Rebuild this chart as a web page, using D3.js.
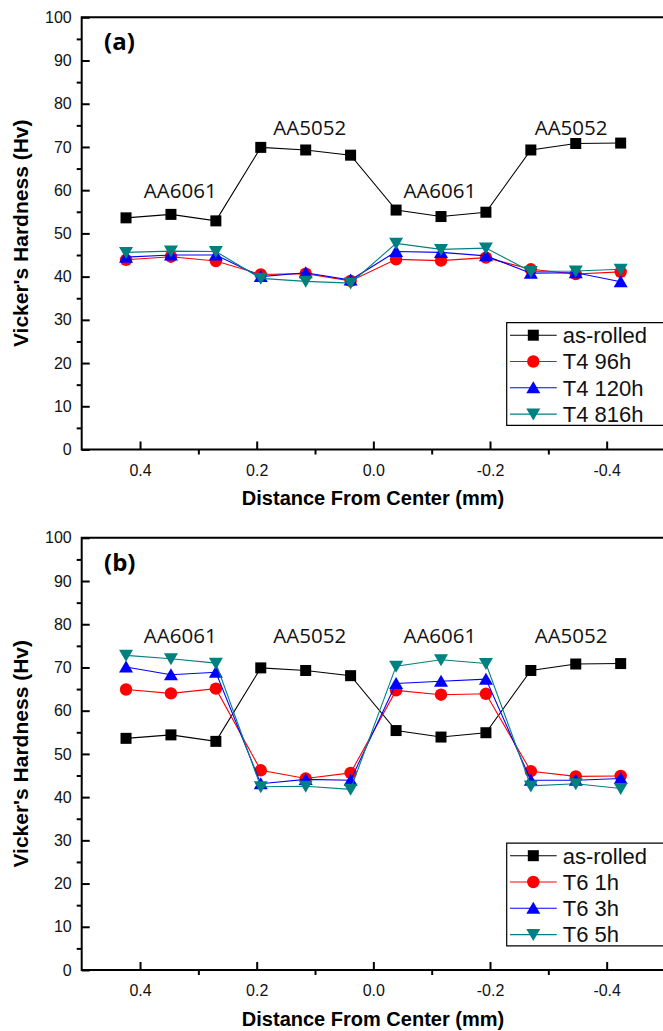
<!DOCTYPE html>
<html><head><meta charset="utf-8">
<script src="https://cdn.jsdelivr.net/npm/d3@7"></script>
<style>html,body{margin:0;padding:0;background:#fff;overflow:hidden;width:663px;height:1031px}svg{display:block;overflow:hidden}</style>
</head><body>
<script>
const xPos = [0.424, 0.347, 0.27, 0.193, 0.116, 0.039, -0.039, -0.116, -0.193, -0.27, -0.347, -0.424];
const asRolled = [53.6, 54.4, 52.9, 69.9, 69.3, 68.1, 55.4, 53.9, 54.9, 69.3, 70.8, 70.9];
const t4_96h  = [43.9, 44.6, 43.6, 40.5, 40.7, 39.0, 44.0, 43.7, 44.4, 41.7, 40.6, 41.1];
const t4_120h = [44.5, 45.0, 45.0, 40.0, 40.9, 39.2, 45.8, 45.6, 44.8, 40.8, 40.9, 38.8];
const t4_816h = [45.6, 45.9, 45.8, 39.6, 38.9, 38.5, 47.7, 46.3, 46.6, 41.2, 41.3, 41.7];
const t6_1h = [64.9, 64.0, 65.1, 46.2, 44.3, 45.6, 64.7, 63.7, 63.9, 46.0, 44.8, 44.9];
const t6_3h = [70.1, 68.3, 68.9, 43.1, 44.1, 43.9, 66.3, 66.8, 67.3, 43.9, 43.9, 44.3];
const t6_5h = [72.8, 72.0, 71.0, 42.4, 42.5, 41.8, 70.3, 71.8, 70.9, 42.6, 43.1, 42.0];
const seriesA = ["as-rolled", "T4 96h", "T4 120h", "T4 816h"];
const seriesB = ["as-rolled", "T6 1h", "T6 3h", "T6 5h"];
const regionLabels = ["AA6061", "AA5052", "AA6061", "AA5052"];
const regionX = [0.331, 0.109, -0.114, -0.339];
const regionYA = [58.2, 72.8, 58.2, 72.8];
const regionYB = [75.6, 75.6, 75.6, 75.6];
const xMajor = [0.4, 0.2, 0.0, -0.2, -0.4];
const xMinor = [0.3, 0.1, -0.1, -0.3];
const yMajor = [0,10,20,30,40,50,60,70,80,90,100];
const yMinor = [5,15,25,35,45,55,65,75,85,95];

const colors = ["#000000", "#ff0000", "#0000ff", "#008080"];

const W = 663, H = 1031;
const svg = d3.select("body").append("svg").attr("width", W).attr("height", H);
svg.append("defs").append("clipPath").attr("id", "pg").append("rect")
  .attr("x", 0).attr("y", 0).attr("width", W).attr("height", H);
const root = svg.append("g").attr("clip-path", "url(#pg)");

function marker(g, k, cx, cy) {
  const c = colors[k];
  if (k === 0) {
    g.append("rect").attr("x", cx-5.5).attr("y", cy-5.5).attr("width", 11).attr("height", 11).attr("fill", c);
  } else if (k === 1) {
    g.append("circle").attr("cx", cx).attr("cy", cy).attr("r", 6.2).attr("fill", c);
  } else if (k === 2) {
    g.append("path").attr("d", `M${cx},${cy-6.5}L${cx+7},${cy+5.5}L${cx-7},${cy+5.5}Z`).attr("fill", c);
  } else {
    g.append("path").attr("d", `M${cx},${cy+6.5}L${cx+7},${cy-5.5}L${cx-7},${cy-5.5}Z`).attr("fill", c);
  }
}

function panel(top, data, names, tag, regY) {
  const x = d3.scaleLinear().domain([0.5, -0.5]).range([81.7, 665]);
  const y = d3.scaleLinear().domain([0, 100]).range([top + 432.2, top]);
  const g = root.append("g");

  g.append("path").attr("d", `M700,${top}H81.7V${top+432.2}H700`)
    .attr("fill", "none").attr("stroke", "#000").attr("stroke-width", 2);

  const yAx = g.append("g").attr("transform", `translate(81.7,0)`)
    .call(d3.axisLeft(y).tickValues(yMajor).tickSize(-8).tickPadding(10).tickFormat(d3.format("d")));
  yAx.select(".domain").remove();
  yAx.selectAll("line").attr("stroke-width", 2);
  yAx.selectAll("text").attr("font-family", "Liberation Sans, Arial, sans-serif").attr("font-size", 16).attr("fill", "#111");
  const yMin = g.append("g").attr("transform", `translate(81.7,0)`)
    .call(d3.axisLeft(y).tickValues(yMinor).tickSize(5).tickFormat(""));
  yMin.select(".domain").remove();
  yMin.selectAll("line").attr("stroke-width", 2);

  const xAx = g.append("g").attr("transform", `translate(0,${top+432.2})`)
    .call(d3.axisBottom(x).tickValues(xMajor).tickSize(-8).tickPadding(15).tickFormat(d => d3.format(".1f")(d).replace("−", "-")));
  xAx.select(".domain").remove();
  xAx.selectAll("line").attr("stroke-width", 2);
  xAx.selectAll("text").attr("font-family", "Liberation Sans, Arial, sans-serif").attr("font-size", 16).attr("fill", "#111");
  const xMin = g.append("g").attr("transform", `translate(0,${top+432.2})`)
    .call(d3.axisBottom(x).tickValues(xMinor).tickSize(5).tickFormat(""));
  xMin.select(".domain").remove();
  xMin.selectAll("line").attr("stroke-width", 2);

  g.append("text").attr("x", 373).attr("y", top + 488).attr("text-anchor", "middle")
    .attr("font-family", "Liberation Sans, Arial, sans-serif").attr("font-weight", "bold").attr("font-size", 20)
    .text("Distance From Center (mm)");
  g.append("text").attr("transform", `translate(28,${top+216}) rotate(-90)`).attr("text-anchor", "middle")
    .attr("font-family", "Liberation Sans, Arial, sans-serif").attr("font-weight", "bold").attr("font-size", 21)
    .text("Vicker's Hardness (Hv)");

  g.append("text").attr("x", 104).attr("y", top + 33).attr("font-family", "Open Sans, sans-serif")
    .attr("font-weight", "bold").attr("font-size", 24).text(tag);

  regionLabels.forEach((t, i) => {
    g.append("text").attr("x", x(regionX[i])).attr("y", y(regY[i])).attr("text-anchor", "middle")
      .attr("font-family", "Open Sans, sans-serif").attr("font-size", 20.5).attr("fill", "#111").text(t);
  });

  const line = d3.line().x((d, i) => x(xPos[i])).y(d => y(d));
  data.forEach((vals, k) => {
    const sg = g.append("g");
    sg.append("path").attr("d", line(vals)).attr("fill", "none").attr("stroke", colors[k]).attr("stroke-width", 1.1);
    vals.forEach((v, i) => marker(sg, k, x(xPos[i]), y(v)));
  });

  const lt = top + 305.4;
  const lg = g.append("g");
  lg.append("path").attr("d", `M700,${lt}H506.7V${lt+102.6}H700`)
    .attr("fill", "#fff").attr("stroke", "#000").attr("stroke-width", 1.2);
  names.forEach((n, k) => {
    const cy = lt + 12.5 + k * 26.3;
    lg.append("line").attr("x1", 510).attr("x2", 556.7).attr("y1", cy).attr("y2", cy)
      .attr("stroke", colors[k]).attr("stroke-width", 1.1);
    marker(lg, k, 533.3, cy);
    lg.append("text").attr("x", 562.7).attr("y", cy + 7.8).attr("font-family", "Liberation Sans, Arial, sans-serif")
      .attr("font-size", 22).attr("fill", "#111").text(n);
  });
}

panel(17.3, [asRolled, t4_96h, t4_120h, t4_816h], seriesA, "(a)", regionYA);
panel(537.8, [asRolled, t6_1h, t6_3h, t6_5h], seriesB, "(b)", regionYB);
</script>
</body></html>
